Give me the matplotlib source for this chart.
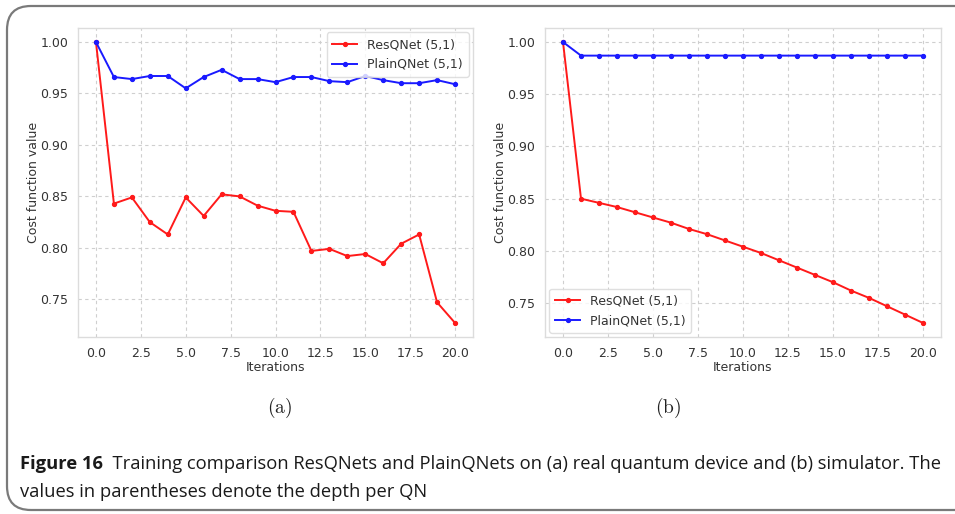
import matplotlib
matplotlib.use("Agg")
import matplotlib.pyplot as plt
from matplotlib.patches import FancyBboxPatch

plt.rcParams["mathtext.fontset"] = "cm"

# Training cost per iteration
iterations = list(range(21))

# (a) real quantum device
res_device = [1.000, 0.843, 0.849, 0.825, 0.813, 0.849, 0.831, 0.852, 0.850, 0.841,
              0.836, 0.835, 0.797, 0.799, 0.792, 0.794, 0.785, 0.804, 0.813, 0.747, 0.727]
plain_device = [1.000, 0.966, 0.964, 0.967, 0.967, 0.955, 0.966, 0.973, 0.964, 0.964,
                0.961, 0.966, 0.966, 0.962, 0.961, 0.967, 0.963, 0.960, 0.960, 0.963, 0.959]

# (b) simulator
res_sim = [1.000, 0.850, 0.846, 0.842, 0.837, 0.832, 0.827, 0.821, 0.816, 0.810,
           0.804, 0.798, 0.791, 0.784, 0.777, 0.770, 0.762, 0.755, 0.747, 0.739, 0.731]
plain_sim = [1.000] + [0.987] * 20

series_labels = ["ResQNet (5,1)", "PlainQNet (5,1)"]
panel_labels = [r"$\mathrm{(a)}$", r"$\mathrm{(b)}$"]
caption_bold = "Figure 16"
caption_line1 = ("  Training comparison ResQNets and PlainQNets on (a) real quantum "
                 "device and (b) simulator. The")
caption_line2 = "values in parentheses denote the depth per QN"

W, H = 955, 514
fig = plt.figure(figsize=(W / 100, H / 100), dpi=100)

# outer rounded frame (runs past the right edge)
frame = FancyBboxPatch((7 / W, 4 / H), (990 - 7) / W, (508 - 4) / H,
                       boxstyle="round,pad=0,rounding_size=0.025",
                       transform=fig.transFigure, fill=False,
                       edgecolor="#7a7a7a", linewidth=1.6, clip_on=False,
                       mutation_aspect=W / H)
fig.patches.append(frame)

def px_axes(x0, x1, y0, y1):
    return fig.add_axes([x0 / W, 1 - y1 / H, (x1 - x0) / W, (y1 - y0) / H])

panels = [
    (px_axes(78, 473, 28, 337), res_device, plain_device, "upper right"),
    (px_axes(545, 941, 28, 337), res_sim, plain_sim, "lower left"),
]

for ax, res, plain, loc in panels:
    ax.plot(iterations, res, color="#ff1a1a", marker="o", markersize=2.8,
            linewidth=1.4, label=series_labels[0])
    ax.plot(iterations, plain, color="#1a1aff", marker="o", markersize=2.8,
            linewidth=1.4, label=series_labels[1])
    ax.set_xticks([0, 2.5, 5, 7.5, 10, 12.5, 15, 17.5, 20])
    ax.set_yticks([0.75, 0.80, 0.85, 0.90, 0.95, 1.00])
    ax.set_xticklabels([f"{v:.1f}" for v in ax.get_xticks()])
    ax.set_yticklabels([f"{v:.2f}" for v in ax.get_yticks()])
    ax.grid(True, linestyle=(0, (3, 3)), color="#cfcfcf", linewidth=0.8)
    ax.set_axisbelow(True)
    for s in ax.spines.values():
        s.set_color("#dcdcdc")
        s.set_linewidth(1.0)
    ax.tick_params(length=0, pad=7, labelsize=9, labelcolor="#333333")
    ax.set_xlabel("Iterations", fontsize=9, color="#333333", labelpad=1)
    ax.set_ylabel("Cost function value", fontsize=9, color="#333333", labelpad=0)
    leg = ax.legend(loc=loc, fontsize=9, frameon=True, borderpad=0.45,
                    handlelength=2.0, labelspacing=0.55, borderaxespad=0.35)
    leg.get_frame().set_edgecolor("#d8d8d8")
    for t in leg.get_texts():
        t.set_color("#333333")

# panel letters
fig.text(280 / W, 1 - 408 / H, panel_labels[0], fontsize=14,
         ha="center", va="center", color="#222222")
fig.text(668 / W, 1 - 408 / H, panel_labels[1], fontsize=14,
         ha="center", va="center", color="#222222")

# caption
cap_font = ["Open Sans", "DejaVu Sans"]
cap_size = 13.2
t1 = fig.text(20 / W, 1 - 464 / H, caption_bold, family=cap_font, fontsize=cap_size,
              fontweight="bold", ha="left", va="center", color="#1a1a1a")
fig.canvas.draw()
bb = t1.get_window_extent()
fig.text(bb.x1 / W, 1 - 464 / H, caption_line1, family=cap_font, fontsize=cap_size,
         ha="left", va="center", color="#1a1a1a")
fig.text(20 / W, 1 - 492 / H, caption_line2, family=cap_font, fontsize=cap_size,
         ha="left", va="center", color="#1a1a1a")

fig.savefig("out.png", dpi=100)
